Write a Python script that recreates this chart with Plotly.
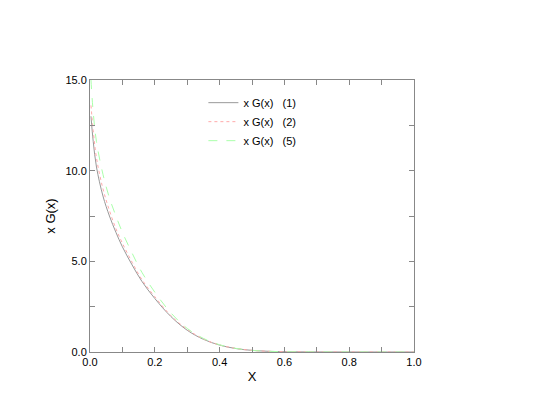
import plotly.graph_objects as go

x_vals = [0.003, 0.01, 0.02, 0.04, 0.06, 0.08, 0.1, 0.13, 0.16, 0.2, 0.25, 0.3, 0.35, 0.4, 0.45, 0.5, 0.55, 0.6, 0.7, 0.8, 0.9, 1.0]
g1 = [13.0, 11.6, 10.2, 8.6, 7.5, 6.6, 5.8, 4.8, 3.9, 2.95, 1.95, 1.2, 0.7, 0.38, 0.19, 0.09, 0.04, 0.015, 0.003, 0.0005, 0.0001, 0.0]
g2 = [13.6, 12.2, 10.7, 9.0, 7.8, 6.8, 6.0, 4.95, 4.0, 3.05, 2.0, 1.25, 0.72, 0.39, 0.2, 0.09, 0.04, 0.015, 0.003, 0.0005, 0.0001, 0.0]
g5 = [15.0, 13.2, 11.6, 9.8, 8.5, 7.5, 6.6, 5.45, 4.4, 3.3, 2.15, 1.3, 0.75, 0.4, 0.2, 0.09, 0.04, 0.015, 0.003, 0.0005, 0.0001, 0.0]

fig = go.Figure()
fig.add_trace(go.Scatter(x=x_vals, y=g1, mode="lines", name="x G(x)   (1)",
                         line=dict(color="#999999", width=1, shape="spline")))
fig.add_trace(go.Scatter(x=x_vals, y=g2, mode="lines", name="x G(x)   (2)",
                         line=dict(color="#ffaaaa", width=1, dash="dot", shape="spline")))
fig.add_trace(go.Scatter(x=x_vals, y=g5, mode="lines", name="x G(x)   (5)",
                         line=dict(color="#aaffaa", width=1, dash="dash", shape="spline")))

axis_style = dict(showgrid=False, zeroline=False, showline=True, linecolor="#888888", linewidth=1,
                  mirror="ticks", ticks="inside", ticklen=5, tickcolor="#888888", automargin=False,
                  tickfont=dict(family="Liberation Sans, Arial", size=11, color="black"))
fig.update_xaxes(range=[0, 1], dtick=0.2, tickformat=".1f", title=dict(text="X", standoff=4),
                 minor=dict(dtick=0.1, ticks="inside", ticklen=5, tickcolor="#888888"), **axis_style)
fig.update_yaxes(range=[0, 15], dtick=5, tickformat=".1f", title=dict(text="x G(x)", standoff=6),
                 minor=dict(dtick=2.5, ticks="inside", ticklen=5, tickcolor="#888888"), **axis_style)
fig.update_layout(width=536, height=415, plot_bgcolor="white", paper_bgcolor="white",
                  margin=dict(l=82, r=130, t=72, b=71),
                  font=dict(family="Liberation Sans, Arial", size=11, color="black"),
                  legend=dict(x=0.35, y=0.97, xanchor="left", yanchor="top", bgcolor="rgba(0,0,0,0)",
                              font=dict(size=11), tracegroupgap=0))
fig.write_html("out.html")
